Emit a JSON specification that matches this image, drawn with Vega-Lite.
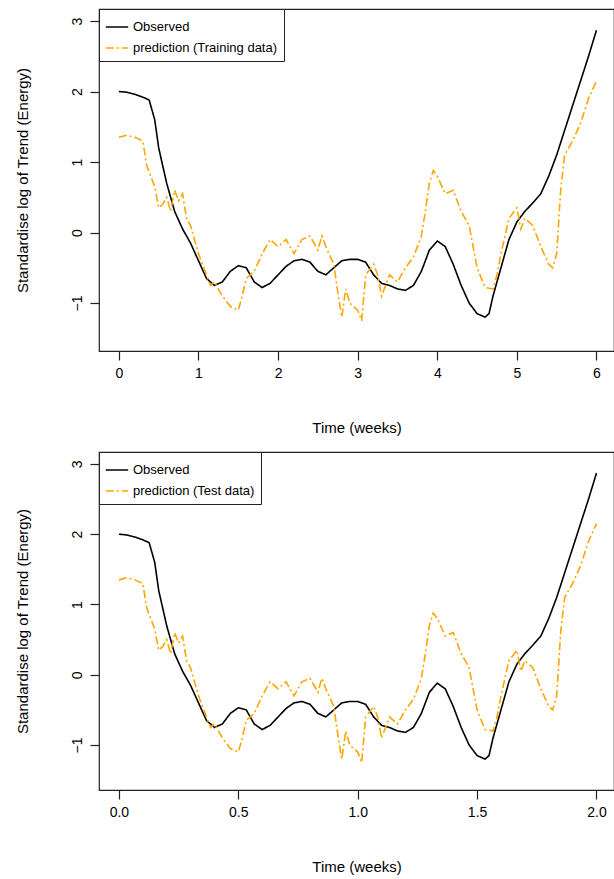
{
  "$schema": "https://vega.github.io/schema/vega-lite/v6.json",
  "autosize": {"type": "pad"},
  "padding": {"left": 14, "top": 7, "right": 0, "bottom": 0},
  "spacing": 14,
  "config": {
    "font": "Liberation Sans",
    "view": {"stroke": "#222", "strokeWidth": 1.2},
    "axis": {"grid": false, "domain": false, "tickColor": "#222", "tickSize": 9, "tickWidth": 1.2, "labelFontSize": 14, "labelColor": "#000", "titleFontSize": 15, "titleFontWeight": "normal", "titleColor": "#000", "labelPadding": 6},
    "axisY": {"labelAngle": -90, "labelAlign": "center", "labelBaseline": "bottom", "titlePadding": 40},
    "axisX": {"titlePadding": 40},
    "legend": {"orient": "top-left", "offset": 0, "strokeColor": "#222", "fillColor": "white", "padding": 6, "labelFontSize": 13, "labelColor": "#000", "symbolType": "stroke", "symbolSize": 500, "symbolStrokeWidth": 1.5, "rowPadding": 2, "title": null}
  },
  "datasets": {
    "d": [
      {"t":0,"s":"Observed","v":2.0},{"t":0.1,"s":"Observed","v":1.99},{"t":0.2,"s":"Observed","v":1.96},{"t":0.3,"s":"Observed","v":1.92},{"t":0.38,"s":"Observed","v":1.88},{"t":0.45,"s":"Observed","v":1.6},{"t":0.5,"s":"Observed","v":1.2},{"t":0.6,"s":"Observed","v":0.7},{"t":0.7,"s":"Observed","v":0.3},{"t":0.8,"s":"Observed","v":0.05},{"t":0.9,"s":"Observed","v":-0.15},{"t":1.0,"s":"Observed","v":-0.4},{"t":1.1,"s":"Observed","v":-0.65},{"t":1.2,"s":"Observed","v":-0.75},{"t":1.3,"s":"Observed","v":-0.7},{"t":1.4,"s":"Observed","v":-0.55},{"t":1.5,"s":"Observed","v":-0.47},{"t":1.6,"s":"Observed","v":-0.5},{"t":1.7,"s":"Observed","v":-0.7},{"t":1.8,"s":"Observed","v":-0.78},{"t":1.9,"s":"Observed","v":-0.72},{"t":2.0,"s":"Observed","v":-0.6},{"t":2.1,"s":"Observed","v":-0.48},{"t":2.2,"s":"Observed","v":-0.4},{"t":2.3,"s":"Observed","v":-0.38},{"t":2.4,"s":"Observed","v":-0.42},{"t":2.5,"s":"Observed","v":-0.55},{"t":2.6,"s":"Observed","v":-0.6},{"t":2.7,"s":"Observed","v":-0.5},{"t":2.8,"s":"Observed","v":-0.4},{"t":2.9,"s":"Observed","v":-0.38},{"t":3.0,"s":"Observed","v":-0.38},{"t":3.1,"s":"Observed","v":-0.42},{"t":3.2,"s":"Observed","v":-0.6},{"t":3.3,"s":"Observed","v":-0.72},{"t":3.4,"s":"Observed","v":-0.75},{"t":3.5,"s":"Observed","v":-0.8},{"t":3.6,"s":"Observed","v":-0.82},{"t":3.7,"s":"Observed","v":-0.75},{"t":3.8,"s":"Observed","v":-0.55},{"t":3.9,"s":"Observed","v":-0.25},{"t":4.0,"s":"Observed","v":-0.12},{"t":4.1,"s":"Observed","v":-0.2},{"t":4.2,"s":"Observed","v":-0.45},{"t":4.3,"s":"Observed","v":-0.75},{"t":4.4,"s":"Observed","v":-1.0},{"t":4.5,"s":"Observed","v":-1.15},{"t":4.6,"s":"Observed","v":-1.2},{"t":4.65,"s":"Observed","v":-1.15},{"t":4.7,"s":"Observed","v":-0.9},{"t":4.8,"s":"Observed","v":-0.5},{"t":4.9,"s":"Observed","v":-0.1},{"t":5.0,"s":"Observed","v":0.15},{"t":5.1,"s":"Observed","v":0.3},{"t":5.2,"s":"Observed","v":0.42},{"t":5.3,"s":"Observed","v":0.55},{"t":5.4,"s":"Observed","v":0.8},{"t":5.5,"s":"Observed","v":1.1},{"t":5.6,"s":"Observed","v":1.45},{"t":5.7,"s":"Observed","v":1.8},{"t":5.8,"s":"Observed","v":2.15},{"t":5.9,"s":"Observed","v":2.5},{"t":6.0,"s":"Observed","v":2.87},
      {"t":0,"s":"prediction","v":1.35},{"t":0.1,"s":"prediction","v":1.38},{"t":0.2,"s":"prediction","v":1.35},{"t":0.3,"s":"prediction","v":1.3},{"t":0.35,"s":"prediction","v":0.95},{"t":0.45,"s":"prediction","v":0.65},{"t":0.5,"s":"prediction","v":0.35},{"t":0.55,"s":"prediction","v":0.4},{"t":0.6,"s":"prediction","v":0.5},{"t":0.65,"s":"prediction","v":0.3},{"t":0.7,"s":"prediction","v":0.6},{"t":0.75,"s":"prediction","v":0.45},{"t":0.8,"s":"prediction","v":0.55},{"t":0.85,"s":"prediction","v":0.2},{"t":0.9,"s":"prediction","v":0.1},{"t":1.0,"s":"prediction","v":-0.3},{"t":1.1,"s":"prediction","v":-0.6},{"t":1.15,"s":"prediction","v":-0.75},{"t":1.2,"s":"prediction","v":-0.7},{"t":1.3,"s":"prediction","v":-0.9},{"t":1.4,"s":"prediction","v":-1.05},{"t":1.5,"s":"prediction","v":-1.1},{"t":1.55,"s":"prediction","v":-0.9},{"t":1.6,"s":"prediction","v":-0.65},{"t":1.7,"s":"prediction","v":-0.55},{"t":1.8,"s":"prediction","v":-0.3},{"t":1.9,"s":"prediction","v":-0.1},{"t":2.0,"s":"prediction","v":-0.2},{"t":2.1,"s":"prediction","v":-0.1},{"t":2.2,"s":"prediction","v":-0.3},{"t":2.3,"s":"prediction","v":-0.1},{"t":2.4,"s":"prediction","v":-0.05},{"t":2.5,"s":"prediction","v":-0.25},{"t":2.55,"s":"prediction","v":-0.05},{"t":2.6,"s":"prediction","v":-0.2},{"t":2.7,"s":"prediction","v":-0.45},{"t":2.75,"s":"prediction","v":-0.85},{"t":2.8,"s":"prediction","v":-1.2},{"t":2.85,"s":"prediction","v":-0.8},{"t":2.9,"s":"prediction","v":-1.0},{"t":3.0,"s":"prediction","v":-1.1},{"t":3.05,"s":"prediction","v":-1.25},{"t":3.1,"s":"prediction","v":-0.6},{"t":3.2,"s":"prediction","v":-0.45},{"t":3.25,"s":"prediction","v":-0.6},{"t":3.3,"s":"prediction","v":-0.9},{"t":3.4,"s":"prediction","v":-0.6},{"t":3.5,"s":"prediction","v":-0.7},{"t":3.6,"s":"prediction","v":-0.5},{"t":3.7,"s":"prediction","v":-0.35},{"t":3.8,"s":"prediction","v":-0.05},{"t":3.85,"s":"prediction","v":0.3},{"t":3.9,"s":"prediction","v":0.7},{"t":3.95,"s":"prediction","v":0.88},{"t":4.0,"s":"prediction","v":0.8},{"t":4.1,"s":"prediction","v":0.55},{"t":4.2,"s":"prediction","v":0.6},{"t":4.3,"s":"prediction","v":0.3},{"t":4.4,"s":"prediction","v":0.1},{"t":4.5,"s":"prediction","v":-0.5},{"t":4.6,"s":"prediction","v":-0.78},{"t":4.7,"s":"prediction","v":-0.8},{"t":4.75,"s":"prediction","v":-0.6},{"t":4.8,"s":"prediction","v":-0.3},{"t":4.9,"s":"prediction","v":0.2},{"t":5.0,"s":"prediction","v":0.35},{"t":5.05,"s":"prediction","v":0.05},{"t":5.1,"s":"prediction","v":0.2},{"t":5.2,"s":"prediction","v":0.1},{"t":5.3,"s":"prediction","v":-0.2},{"t":5.4,"s":"prediction","v":-0.45},{"t":5.45,"s":"prediction","v":-0.5},{"t":5.5,"s":"prediction","v":-0.3},{"t":5.55,"s":"prediction","v":0.6},{"t":5.6,"s":"prediction","v":1.1},{"t":5.7,"s":"prediction","v":1.3},{"t":5.8,"s":"prediction","v":1.55},{"t":5.9,"s":"prediction","v":1.9},{"t":6.0,"s":"prediction","v":2.15}
    ]
  },
  "vconcat": [
    {
      "width": 515, "height": 342,
      "data": {"name": "d"},
      "mark": {"type": "line", "strokeWidth": 1.6},
      "encoding": {
        "x": {"field": "t", "type": "quantitative", "scale": {"domain": [-0.25, 6.22], "nice": false, "zero": false}, "axis": {"values": [0,1,2,3,4,5,6], "title": "Time (weeks)"}},
        "y": {"field": "v", "type": "quantitative", "scale": {"domain": [-1.68, 3.17], "nice": false, "zero": false}, "axis": {"values": [-1,0,1,2,3], "title": "Standardise log of Trend (Energy)"}},
        "color": {"field": "s", "type": "nominal", "scale": {"domain": ["Observed","prediction"], "range": ["#000000","#FFA500"]}, "legend": {"labelExpr": "datum.value == 'Observed' ? 'Observed' : 'prediction (Training data)'"}},
        "strokeDash": {"field": "s", "type": "nominal", "scale": {"domain": ["Observed","prediction"], "range": [[1,0],[8,3,2,3]]}, "legend": {"labelExpr": "datum.value == 'Observed' ? 'Observed' : 'prediction (Training data)'"}}
      }
    },
    {
      "width": 515, "height": 338,
      "data": {"name": "d"},
      "mark": {"type": "line", "strokeWidth": 1.6},
      "encoding": {
        "x": {"field": "t", "type": "quantitative", "scale": {"domain": [-0.25, 6.22], "nice": false, "zero": false}, "axis": {"values": [0,1.5,3,4.5,6], "labelExpr": "format(datum.value / 3, '.1f')", "title": "Time (weeks)"}},
        "y": {"field": "v", "type": "quantitative", "scale": {"domain": [-1.64, 3.17], "nice": false, "zero": false}, "axis": {"values": [-1,0,1,2,3], "title": "Standardise log of Trend (Energy)"}},
        "color": {"field": "s", "type": "nominal", "scale": {"domain": ["Observed","prediction"], "range": ["#000000","#FFA500"]}, "legend": {"labelExpr": "datum.value == 'Observed' ? 'Observed' : 'prediction (Test data)'"}},
        "strokeDash": {"field": "s", "type": "nominal", "scale": {"domain": ["Observed","prediction"], "range": [[1,0],[8,3,2,3]]}, "legend": {"labelExpr": "datum.value == 'Observed' ? 'Observed' : 'prediction (Test data)'"}}
      }
    }
  ],
  "resolve": {"scale": {"color": "independent", "strokeDash": "independent"}, "legend": {"color": "independent", "strokeDash": "independent"}}
}
